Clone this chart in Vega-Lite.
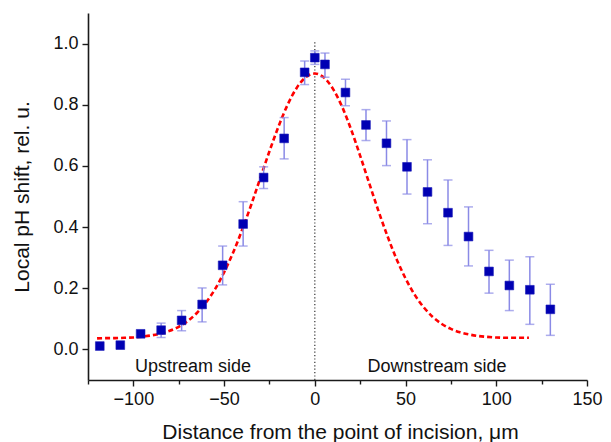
{
  "$schema": "https://vega.github.io/schema/vega-lite/v6.json",
  "autosize": "none",
  "width": 499,
  "height": 367,
  "padding": {"left": 88, "top": 13, "right": 24, "bottom": 62},
  "background": "white",
  "config": {
    "view": {"stroke": null},
    "font": "Liberation Sans"
  },
  "datasets": {
    "pts": [
      {"x": -118.5, "y": 0.011, "lo": null, "hi": null},
      {"x": -107.2, "y": 0.014, "lo": null, "hi": null},
      {"x": -96.0, "y": 0.051, "lo": null, "hi": null},
      {"x": -84.7, "y": 0.063, "lo": 0.039, "hi": 0.086},
      {"x": -73.4, "y": 0.095, "lo": 0.061, "hi": 0.127},
      {"x": -62.1, "y": 0.147, "lo": 0.090, "hi": 0.201},
      {"x": -50.8, "y": 0.275, "lo": 0.211, "hi": 0.338},
      {"x": -39.5, "y": 0.410, "lo": 0.338, "hi": 0.483},
      {"x": -28.2, "y": 0.562, "lo": 0.526, "hi": 0.597},
      {"x": -16.9, "y": 0.690, "lo": 0.623, "hi": 0.758},
      {"x": -5.6, "y": 0.906, "lo": 0.866, "hi": 0.943},
      {"x": 0.0, "y": 0.954, "lo": 0.932, "hi": 0.976},
      {"x": 5.6, "y": 0.932, "lo": 0.890, "hi": 0.969},
      {"x": 16.9, "y": 0.840, "lo": 0.797, "hi": 0.883},
      {"x": 28.2, "y": 0.734, "lo": 0.683, "hi": 0.784},
      {"x": 39.5, "y": 0.674, "lo": 0.601, "hi": 0.747},
      {"x": 50.8, "y": 0.597, "lo": 0.508, "hi": 0.686},
      {"x": 62.1, "y": 0.515, "lo": 0.411, "hi": 0.620},
      {"x": 73.4, "y": 0.447, "lo": 0.340, "hi": 0.554},
      {"x": 84.7, "y": 0.369, "lo": 0.273, "hi": 0.466},
      {"x": 96.0, "y": 0.255, "lo": 0.184, "hi": 0.324},
      {"x": 107.2, "y": 0.209, "lo": 0.127, "hi": 0.292},
      {"x": 118.5, "y": 0.195, "lo": 0.082, "hi": 0.303},
      {"x": 129.8, "y": 0.131, "lo": 0.046, "hi": 0.213}
    ],
    "fit": [
      {"x": -120, "y": 0.036}, {"x": -115, "y": 0.037}, {"x": -110, "y": 0.037},
      {"x": -105, "y": 0.038}, {"x": -100, "y": 0.039}, {"x": -95, "y": 0.042},
      {"x": -90, "y": 0.046}, {"x": -85, "y": 0.052}, {"x": -80, "y": 0.061},
      {"x": -75, "y": 0.074}, {"x": -70, "y": 0.093}, {"x": -65, "y": 0.119},
      {"x": -60, "y": 0.153}, {"x": -55, "y": 0.197}, {"x": -50, "y": 0.252},
      {"x": -45, "y": 0.317}, {"x": -40, "y": 0.392}, {"x": -35, "y": 0.474},
      {"x": -30, "y": 0.561}, {"x": -25, "y": 0.648}, {"x": -20, "y": 0.729},
      {"x": -15, "y": 0.800}, {"x": -10, "y": 0.855}, {"x": -5, "y": 0.890},
      {"x": 0, "y": 0.902}, {"x": 5, "y": 0.889}, {"x": 10, "y": 0.852},
      {"x": 15, "y": 0.794}, {"x": 20, "y": 0.719}, {"x": 25, "y": 0.633},
      {"x": 30, "y": 0.543}, {"x": 35, "y": 0.454}, {"x": 40, "y": 0.371},
      {"x": 45, "y": 0.296}, {"x": 50, "y": 0.232}, {"x": 55, "y": 0.179},
      {"x": 60, "y": 0.138}, {"x": 65, "y": 0.106}, {"x": 70, "y": 0.083},
      {"x": 75, "y": 0.067}, {"x": 80, "y": 0.056}, {"x": 85, "y": 0.049},
      {"x": 90, "y": 0.044}, {"x": 95, "y": 0.041}, {"x": 100, "y": 0.039},
      {"x": 105, "y": 0.038}, {"x": 110, "y": 0.038}, {"x": 118, "y": 0.038}
    ],
    "ref": [{"x": 0, "lo": -0.1, "hi": 1.01}],
    "notes": [
      {"x": -67.1, "y": -0.074, "label": "Upstream side"},
      {"x": 67.3, "y": -0.074, "label": "Downstream side"}
    ]
  },
  "layer": [
    {
      "data": {"name": "pts"},
      "mark": {"type": "point", "shape": "square", "filled": true, "size": 76, "color": "#0000b3", "opacity": 0},
      "encoding": {
        "x": {
          "field": "x", "type": "quantitative",
          "scale": {"domain": [-125, 150], "nice": false, "zero": false},
          "axis": {
            "title": "Distance from the point of incision, μm",
            "values": [-125, -100, -75, -50, -25, 0, 25, 50, 75, 100, 125, 150],
            "labelExpr": "datum.value % 50 === 0 ? datum.label : ''",
            "format": "d",
            "grid": false,
            "domainColor": "#1a1a1a", "domainWidth": 1.6,
            "tickColor": "#1a1a1a", "tickWidth": 1.4, "tickSize": 6,
            "tickDash": {"condition": {"test": "datum.value % 50 === 0", "value": []}, "value": [4, 10]},
            "labelFontSize": 18, "labelColor": "#111111", "labelPadding": 4,
            "labelFlush": false,
            "titleFontSize": 21, "titleFontWeight": "normal", "titleColor": "#111111",
            "titleBaseline": "alphabetic", "titleY": 58, "titleX": 252
          }
        },
        "y": {
          "field": "y", "type": "quantitative",
          "scale": {"domain": [-0.1, 1.1], "nice": false, "zero": false},
          "axis": {
            "title": "Local pH shift, rel. u.",
            "values": [0, 0.2, 0.4, 0.6, 0.8, 1.0],
            "format": ".1f",
            "grid": false,
            "domainColor": "#1a1a1a", "domainWidth": 1.6,
            "tickColor": "#1a1a1a", "tickWidth": 1.4, "tickSize": 6,
            "labelFontSize": 18, "labelColor": "#111111", "labelPadding": 4,
            "titleFontSize": 21, "titleFontWeight": "normal", "titleColor": "#111111",
            "titlePadding": 20
          }
        }
      }
    },
    {
      "data": {"name": "ref"},
      "mark": {"type": "rule", "color": "#333333", "strokeWidth": 1.2, "strokeDash": [1.2, 2.2]},
      "encoding": {
        "x": {"field": "x", "type": "quantitative"},
        "y": {"field": "lo", "type": "quantitative"},
        "y2": {"field": "hi"}
      }
    },
    {
      "data": {"name": "fit"},
      "mark": {"type": "line", "color": "#ff0000", "strokeWidth": 2.6, "strokeDash": [5, 3], "interpolate": "monotone"},
      "encoding": {
        "x": {"field": "x", "type": "quantitative"},
        "y": {"field": "y", "type": "quantitative"}
      }
    },
    {
      "data": {"name": "pts"},
      "mark": {"type": "rule", "color": "#8a8ae6", "strokeWidth": 1.5},
      "encoding": {
        "x": {"field": "x", "type": "quantitative"},
        "y": {"field": "lo", "type": "quantitative"},
        "y2": {"field": "hi"}
      }
    },
    {
      "data": {"name": "pts"},
      "mark": {"type": "tick", "orient": "horizontal", "color": "#8a8ae6", "size": 9, "thickness": 1.5},
      "encoding": {
        "x": {"field": "x", "type": "quantitative"},
        "y": {"field": "lo", "type": "quantitative"}
      }
    },
    {
      "data": {"name": "pts"},
      "mark": {"type": "tick", "orient": "horizontal", "color": "#8a8ae6", "size": 9, "thickness": 1.5},
      "encoding": {
        "x": {"field": "x", "type": "quantitative"},
        "y": {"field": "hi", "type": "quantitative"}
      }
    },
    {
      "data": {"name": "pts"},
      "mark": {"type": "point", "shape": "square", "filled": true, "size": 76, "color": "#0000b3", "opacity": 1, "stroke": "#1a1ab8", "strokeWidth": 0.6},
      "encoding": {
        "x": {"field": "x", "type": "quantitative"},
        "y": {"field": "y", "type": "quantitative"}
      }
    },
    {
      "data": {"name": "notes"},
      "mark": {"type": "text", "fontSize": 18, "color": "#111111", "align": "center", "baseline": "alphabetic"},
      "encoding": {
        "x": {"field": "x", "type": "quantitative"},
        "y": {"field": "y", "type": "quantitative"},
        "text": {"field": "label"}
      }
    }
  ]
}
